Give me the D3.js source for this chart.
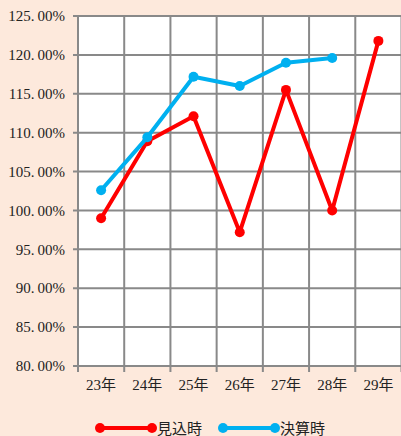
<!DOCTYPE html>
<html>
<head>
<meta charset="utf-8">
<script src="https://cdn.jsdelivr.net/npm/d3@7"></script>
<style>
  html, body { margin: 0; padding: 0; background: #fde9dc; }
  svg { display: block; }
</style>
</head>
<body>
<div id="chart"></div>
<script>
/* categories and series */
const years = ['23年', '24年', '25年', '26年', '27年', '28年', '29年'];
const mikomi = [99.0, 108.9, 112.1, 97.2, 115.5, 100.0, 121.8];   // 見込時
const kessan = [102.6, 109.4, 117.2, 116.0, 119.0, 119.6, null];  // 決算時
const yTicks = [80, 85, 90, 95, 100, 105, 110, 115, 120, 125];

const series = [
  { name: '見込時', values: mikomi, color: '#ff0000' },
  { name: '決算時', values: kessan, color: '#00b0f0' },
];

const W = 401, H = 436;
const m = { top: 16, right: 0, bottom: 70, left: 78 };
const FONT = '"Liberation Serif", "DejaVu Serif", "Noto Sans CJK JP", serif';

const svg = d3.select('#chart').append('svg')
  .attr('width', W).attr('height', H);

svg.append('rect').attr('width', W).attr('height', H).attr('fill', '#fde9dc');

const x = d3.scaleBand().domain(years).range([m.left, W - m.right + 0.5]);
const y = d3.scaleLinear().domain([80, 125]).range([H - m.bottom, m.top]);

/* plot area */
svg.append('rect')
  .attr('x', m.left).attr('y', m.top)
  .attr('width', W - m.left - m.right).attr('height', H - m.bottom - m.top)
  .attr('fill', '#fff');

const gridColor = '#898989';

/* horizontal grid + left ticks */
svg.append('g')
  .selectAll('line')
  .data(yTicks)
  .join('line')
  .attr('x1', m.left - 5).attr('x2', W)
  .attr('y1', d => y(d)).attr('y2', d => y(d))
  .attr('stroke', gridColor).attr('stroke-width', 2);

/* vertical grid at band edges, ticks below axis */
const edges = years.map(d => x(d)).concat([x(years[years.length - 1]) + x.bandwidth()]);
svg.append('g')
  .selectAll('line')
  .data(edges)
  .join('line')
  .attr('x1', d => d).attr('x2', d => d)
  .attr('y1', m.top).attr('y2', H - m.bottom + 6)
  .attr('stroke', gridColor).attr('stroke-width', 2);

/* y labels */
svg.append('g')
  .selectAll('text')
  .data(yTicks)
  .join('text')
  .attr('x', m.left - 13)
  .attr('y', d => y(d))
  .attr('dy', '0.35em')
  .attr('text-anchor', 'end')
  .attr('font-family', FONT)
  .attr('font-size', 15)
  .attr('fill', '#222')
  .text(d => d.toFixed(2).replace('.', '.\u2009') + '%');

/* x labels */
svg.append('g')
  .selectAll('text')
  .data(years)
  .join('text')
  .attr('x', d => x(d) + x.bandwidth() / 2)
  .attr('y', H - m.bottom + 24)
  .attr('text-anchor', 'middle')
  .attr('font-family', FONT)
  .attr('font-size', 15)
  .attr('fill', '#222')
  .text(d => d);

/* lines + markers */
const line = d3.line()
  .defined(d => d.v !== null)
  .x(d => x(d.k) + x.bandwidth() / 2)
  .y(d => y(d.v));

series.forEach(s => {
  const pts = years.map((k, i) => ({ k, v: s.values[i] }));
  svg.append('path')
    .datum(pts)
    .attr('d', line)
    .attr('fill', 'none')
    .attr('stroke', s.color)
    .attr('stroke-width', 4)
    .attr('stroke-linejoin', 'round');
  svg.append('g')
    .selectAll('circle')
    .data(pts.filter(d => d.v !== null))
    .join('circle')
    .attr('cx', d => x(d.k) + x.bandwidth() / 2)
    .attr('cy', d => y(d.v))
    .attr('r', 5)
    .attr('fill', s.color);
});

/* legend */
const legendX = [100, 223];
series.forEach((s, i) => {
  const g = svg.append('g').attr('transform', `translate(${legendX[i]}, 428)`);
  g.append('line').attr('x1', 0).attr('x2', 52).attr('y1', 0).attr('y2', 0)
    .attr('stroke', s.color).attr('stroke-width', 4);
  g.selectAll('circle').data([0, 52]).join('circle')
    .attr('cx', d => d).attr('cy', 0).attr('r', 5).attr('fill', s.color);
  g.append('text')
    .attr('x', 57).attr('y', 0).attr('dy', '0.38em')
    .attr('font-family', FONT)
    .attr('font-size', 15)
    .attr('fill', '#222')
    .text(s.name);
});
</script>
</body>
</html>
